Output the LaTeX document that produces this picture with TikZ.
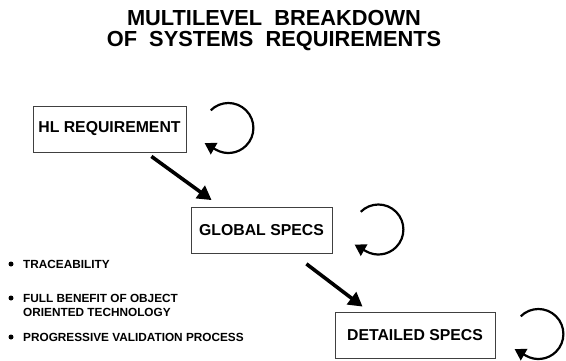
\documentclass[tikz,border=0pt]{standalone}
\usepackage{fontspec}
\setmainfont{Liberation Sans}
\usetikzlibrary{calc,arrows.meta,positioning}
\tikzset{
  spec/.style={draw=black!75, line width=0.8pt, minimum height=46pt,
    font=\fontsize{15.8}{17}\selectfont\bfseries},
  flow/.style={line width=3.6pt, -{Triangle[length=14pt,width=15pt]}},
  iter/.style={line width=2.2pt, -{Triangle[length=11pt,width=13pt]}},
  dot/.style={circle, fill, inner sep=0pt, minimum size=5pt},
  item/.style={anchor=west, align=left, inner sep=0pt,
    font=\fontsize{11.8}{14}\selectfont\bfseries},
}

\begin{document}
\begin{tikzpicture}[x=1pt,y=1pt]
  \useasboundingbox (0,0) rectangle (566,-360);
  \node [font=\fontsize{21.8}{21}\selectfont\bfseries, align=center] (title) at (274,-30.5)
    {MULTILEVEL\ \ BREAKDOWN\\OF\ \ SYSTEMS\ \ REQUIREMENTS};

  % levels
  \node [spec, minimum width=153pt] (hl) at (109.5,-129) {HL REQUIREMENT};
  \node [spec, minimum width=141pt] (global) at (261.5,-230.5) {GLOBAL SPECS};
  \node [spec, minimum width=160pt] (detailed) at (415,-335) {DETAILED SPECS};

  \draw [flow] ($(hl.south east)+(-35,-4)$) -- ($(global.north west)+(21,7)$);
  \draw [flow] ($(global.south east)+(-26,-10)$) -- ($(detailed.north west)+(28,5)$);

  % iterations
  \foreach \lvl/\dx in {hl/42, global/46, detailed/43} {
    \coordinate (\lvl loop) at ($(\lvl.east)+(\dx,1)$);
    \draw [iter] (\lvl loop) ++(135:25) arc[start angle=135, end angle=-120, radius=25] -- ++(150:13);
  }

  % benefits
  \node [dot] (b1) at (11,-264) {};
  \node [dot] (b2) at (11,-298) {};
  \node [dot] (b3) at (11,-337) {};
  \node [item] (trace) at (23,-264) {TRACEABILITY};
  \node [item] (object) at (23,-305) {FULL BENEFIT OF OBJECT\\ORIENTED TECHNOLOGY};
  \node [item] (valid) at (23,-337) {PROGRESSIVE VALIDATION PROCESS};
\end{tikzpicture}
\end{document}
